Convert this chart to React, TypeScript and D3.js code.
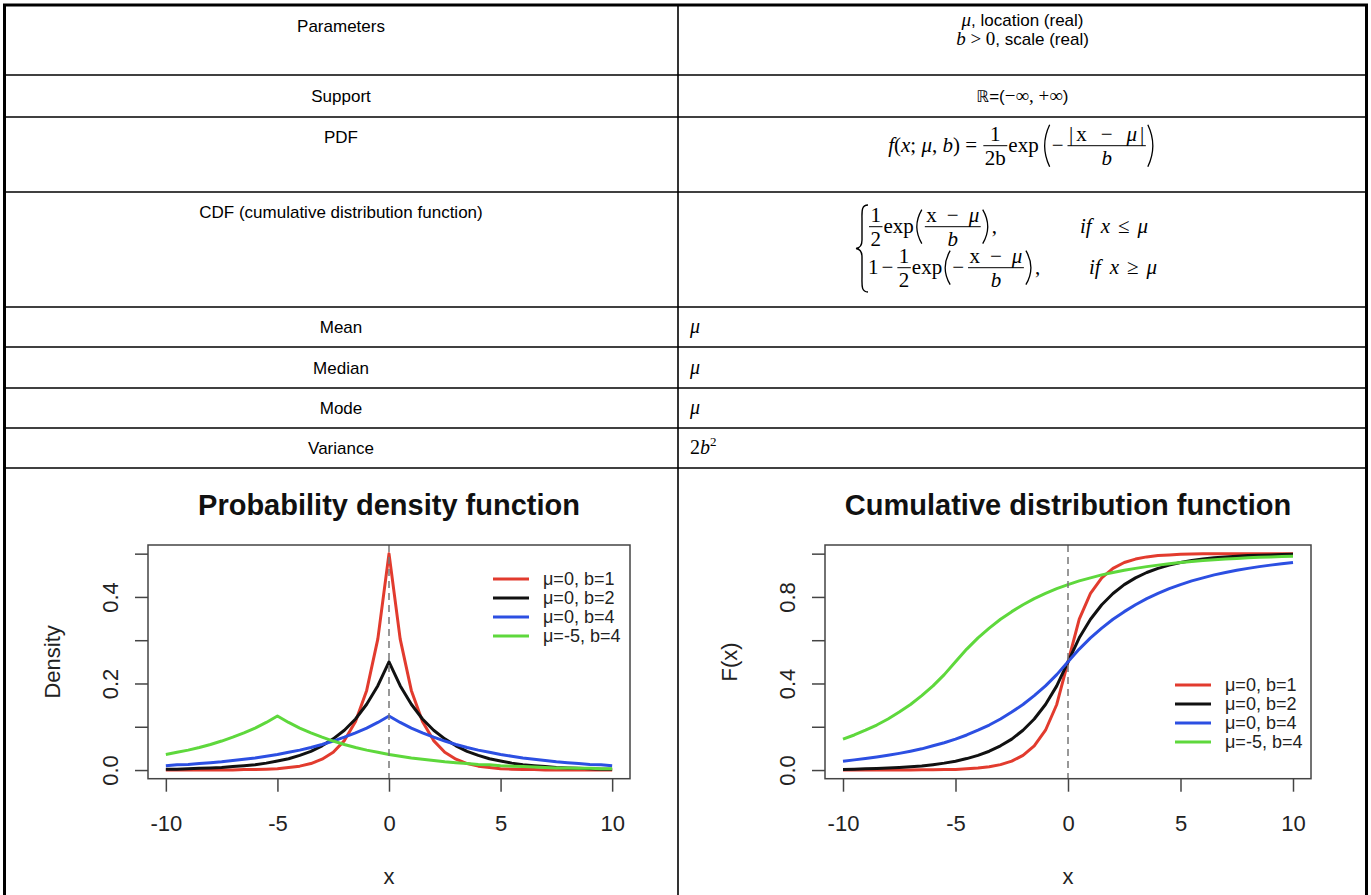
import React, { useEffect, useRef } from "react";
import * as d3 from "d3";

const SANS = "'Liberation Sans', Arial, Helvetica, sans-serif";
const SERIF = "'Liberation Serif', 'Times New Roman', serif";

// ---- table text ----
const rowLabels = [
  "Parameters",
  "Support",
  "PDF",
  "CDF (cumulative distribution function)",
  "Mean",
  "Median",
  "Mode",
  "Variance"
];

// ---- chart data (x from -10 to 10 by 0.5) ----
const xValues = [-10, -9.5, -9, -8.5, -8, -7.5, -7, -6.5, -6, -5.5, -5, -4.5, -4, -3.5, -3, -2.5, -2, -1.5, -1, -0.5,
  0, 0.5, 1, 1.5, 2, 2.5, 3, 3.5, 4, 4.5, 5, 5.5, 6, 6.5, 7, 7.5, 8, 8.5, 9, 9.5, 10];

const pdfRed = [0, 0, 0, 0, 0, 0, 0, 0.001, 0.001, 0.002, 0.003, 0.006, 0.009, 0.015, 0.025, 0.041, 0.068, 0.112, 0.184, 0.303,
  0.5, 0.303, 0.184, 0.112, 0.068, 0.041, 0.025, 0.015, 0.009, 0.006, 0.003, 0.002, 0.001, 0.001, 0, 0, 0, 0, 0, 0, 0];
const pdfBlack = [0.002, 0.002, 0.003, 0.004, 0.005, 0.006, 0.008, 0.010, 0.012, 0.016, 0.021, 0.026, 0.034, 0.043, 0.056, 0.072, 0.092, 0.118, 0.152, 0.195,
  0.25, 0.195, 0.152, 0.118, 0.092, 0.072, 0.056, 0.043, 0.034, 0.026, 0.021, 0.016, 0.012, 0.010, 0.008, 0.006, 0.005, 0.004, 0.003, 0.002, 0.002];
const pdfBlue = [0.010, 0.012, 0.013, 0.015, 0.017, 0.019, 0.022, 0.025, 0.028, 0.032, 0.036, 0.041, 0.046, 0.052, 0.059, 0.067, 0.076, 0.086, 0.097, 0.110,
  0.125, 0.110, 0.097, 0.086, 0.076, 0.067, 0.059, 0.052, 0.046, 0.041, 0.036, 0.032, 0.028, 0.025, 0.022, 0.019, 0.017, 0.015, 0.013, 0.012, 0.010];
const pdfGreen = [0.036, 0.041, 0.046, 0.052, 0.059, 0.067, 0.076, 0.086, 0.097, 0.110, 0.125, 0.110, 0.097, 0.086, 0.076, 0.067, 0.059, 0.052, 0.046, 0.041,
  0.036, 0.032, 0.028, 0.025, 0.022, 0.019, 0.017, 0.015, 0.013, 0.012, 0.010, 0.009, 0.008, 0.007, 0.006, 0.005, 0.005, 0.004, 0.004, 0.003, 0.003];

const cdfRed = [0, 0, 0, 0, 0, 0, 0, 0.001, 0.001, 0.002, 0.003, 0.006, 0.009, 0.015, 0.025, 0.041, 0.068, 0.112, 0.184, 0.303,
  0.5, 0.697, 0.816, 0.888, 0.932, 0.959, 0.975, 0.985, 0.991, 0.994, 0.997, 0.998, 0.999, 0.999, 1, 1, 1, 1, 1, 1, 1];
const cdfBlack = [0.003, 0.004, 0.006, 0.007, 0.009, 0.012, 0.015, 0.019, 0.025, 0.032, 0.041, 0.053, 0.068, 0.087, 0.112, 0.143, 0.184, 0.236, 0.303, 0.389,
  0.5, 0.611, 0.697, 0.764, 0.816, 0.857, 0.888, 0.913, 0.932, 0.947, 0.959, 0.968, 0.975, 0.981, 0.985, 0.988, 0.991, 0.993, 0.994, 0.996, 0.997];
const cdfBlue = [0.041, 0.047, 0.053, 0.060, 0.068, 0.077, 0.087, 0.098, 0.112, 0.126, 0.143, 0.162, 0.184, 0.208, 0.236, 0.268, 0.303, 0.344, 0.389, 0.441,
  0.5, 0.559, 0.611, 0.656, 0.697, 0.732, 0.764, 0.792, 0.816, 0.838, 0.857, 0.874, 0.888, 0.902, 0.913, 0.923, 0.932, 0.940, 0.947, 0.953, 0.959];
const cdfGreen = [0.143, 0.162, 0.184, 0.208, 0.236, 0.268, 0.303, 0.344, 0.389, 0.441, 0.5, 0.559, 0.611, 0.656, 0.697, 0.732, 0.764, 0.792, 0.816, 0.838,
  0.857, 0.874, 0.888, 0.902, 0.913, 0.923, 0.932, 0.940, 0.947, 0.953, 0.959, 0.964, 0.968, 0.972, 0.975, 0.978, 0.981, 0.983, 0.985, 0.987, 0.988];

const legendLabels = ["μ=0, b=1", "μ=0, b=2", "μ=0, b=4", "μ=-5, b=4"];
const xTicks = [-10, -5, 0, 5, 10];
const pdfTicks = [0, 0.1, 0.2, 0.3, 0.4, 0.5];
const pdfTickLabels = ["0.0", "", "0.2", "", "0.4", ""];
const cdfTicks = [0, 0.2, 0.4, 0.6, 0.8, 1];
const cdfTickLabels = ["0.0", "", "0.4", "", "0.8", ""];

const seriesColors = ["#e23b2e", "#111111", "#2c4fe2", "#5ed83c"];

// table layout
const colDivider = 678;
const rowLines = [75, 117, 192, 307, 347, 388, 428, 468];
const labelBaselines = [32, 102, 143, 218, 333, 374, 414, 454];

// [text, flags (i = italic, s = sans, d = dejavu), dx]
type Run = [string, string?, number?];
type Item = { runs?: Run[]; num?: Run[]; den?: Run[]; paren?: string; h?: number; gap?: number; at?: number };

const addRuns = (parent: any, runs: Run[], size: number) => {
  const t = parent.append("text")
    .attr("font-family", SERIF)
    .attr("font-size", size)
    .attr("fill", "#000")
    .style("white-space", "pre");
  runs.forEach(([s, f = "", dx = 0]) => {
    const sp = t.append("tspan").text(s);
    if (dx) sp.attr("dx", dx);
    if (f.includes("i")) sp.attr("font-style", "italic");
    if (f.includes("s")) sp.attr("font-family", SANS).attr("font-size", 17);
    if (f.includes("d")) sp.attr("font-family", "'DejaVu Sans', sans-serif").attr("font-size", 16);
  });
  return t;
};

const runsWidth = (t: any, runs: Run[]) =>
  (t.node() as SVGTextElement).getComputedTextLength() + runs.reduce((s, r) => s + (r[2] || 0), 0);

// lays out a formula on baseline 0, returns its width
const layoutMath = (parent: any, items: Item[], size: number) => {
  const axis = -size * 0.3;
  let x = 0;
  items.forEach((it) => {
    if (it.at !== undefined) x = it.at;
    if (it.runs) {
      const t = addRuns(parent, it.runs, size).attr("x", x).attr("y", 0);
      x += runsWidth(t, it.runs);
    } else if (it.num && it.den) {
      const n = addRuns(parent, it.num, size);
      const d = addRuns(parent, it.den, size);
      const nw = runsWidth(n, it.num);
      const dw = runsWidth(d, it.den);
      const w = Math.max(nw, dw) + 3;
      n.attr("x", x + 1 + (w - nw) / 2).attr("y", axis - 5);
      d.attr("x", x + 1 + (w - dw) / 2).attr("y", axis + 19);
      parent.append("line")
        .attr("x1", x + 1).attr("x2", x + 1 + w)
        .attr("y1", axis).attr("y2", axis)
        .attr("stroke", "#000").attr("stroke-width", 1);
      x += w + 2;
    } else if (it.paren) {
      const h = it.h || 17;
      const path = it.paren === "("
        ? `M${x + 8},${axis - h} Q${x - 2},${axis} ${x + 8},${axis + h}`
        : `M${x + 1},${axis - h} Q${x + 11},${axis} ${x + 1},${axis + h}`;
      parent.append("path").attr("d", path)
        .attr("fill", "none").attr("stroke", "#000").attr("stroke-width", 1.3);
      x += 10;
    } else if (it.gap) {
      x += it.gap;
    }
  });
  return x;
};

const renderTable = (svg: any) => {
  const W = 1371;
  // grid lines
  rowLines.forEach((y) => {
    svg.append("line").attr("x1", 4).attr("x2", 1367).attr("y1", y).attr("y2", y)
      .attr("stroke", "#000").attr("stroke-width", 1.6);
  });
  svg.append("line").attr("x1", colDivider).attr("x2", colDivider).attr("y1", 5).attr("y2", 895)
    .attr("stroke", "#000").attr("stroke-width", 1.6);
  // outer border
  svg.append("line").attr("x1", 3).attr("x2", W - 3).attr("y1", 5).attr("y2", 5)
    .attr("stroke", "#000").attr("stroke-width", 3);
  svg.append("line").attr("x1", 4.5).attr("x2", 4.5).attr("y1", 4).attr("y2", 895)
    .attr("stroke", "#000").attr("stroke-width", 3);
  svg.append("line").attr("x1", 1366.5).attr("x2", 1366.5).attr("y1", 4).attr("y2", 895)
    .attr("stroke", "#000").attr("stroke-width", 3);

  // left column labels
  rowLabels.forEach((label, i) => {
    svg.append("text")
      .attr("x", (4 + colDivider) / 2)
      .attr("y", labelBaselines[i])
      .attr("text-anchor", "middle")
      .attr("font-family", SANS)
      .attr("font-size", 17)
      .text(label);
  });

  const cx = (colDivider + 1367) / 2;

  // Parameters
  addRuns(svg, [["μ", "i"], [", location (real)", "s"]], 19)
    .attr("x", cx).attr("y", 26).attr("text-anchor", "middle");
  addRuns(svg, [["b", "i"], [" > 0"], [", scale (real)", "s"]], 19)
    .attr("x", cx).attr("y", 45).attr("text-anchor", "middle");

  // Support
  addRuns(svg, [["ℝ", "d"], ["=(", "s"], ["−∞, +∞"], [")", "s"]], 19)
    .attr("x", cx).attr("y", 102).attr("text-anchor", "middle");

  // PDF
  const gPdf = svg.append("g");
  const wPdf = layoutMath(gPdf, [
    { runs: [["f", "i"], ["("], ["x", "i"], ["; "], ["μ", "i"], [", "], ["b", "i"], [") = "]] },
    { num: [["1"]], den: [["2b"]] },
    { runs: [["exp"]] },
    { gap: 3 },
    { paren: "(", h: 21 },
    { runs: [["−"]] },
    { gap: 3 },
    { num: [["|"], ["x", "", 3], ["−", "", 14], ["μ", "i", 14], ["|", "", 3]], den: [["b", "i"]] },
    { paren: ")", h: 21 }
  ], 21);
  gPdf.attr("transform", `translate(${cx - wPdf / 2},152)`);

  // CDF
  svg.append("path")
    .attr("d", "M868,205 C861,205 862,212 862,220 L862,240 C862,246 860,248 856,248.5 C860,249 862,251 862,257 L862,277 C862,285 861,292 868,292")
    .attr("fill", "none").attr("stroke", "#000").attr("stroke-width", 1.4);
  const gC1 = svg.append("g").attr("transform", "translate(868,233)");
  layoutMath(gC1, [
    { num: [["1"]], den: [["2"]] },
    { runs: [["exp"]] },
    { paren: "(", h: 17 },
    { num: [["x"], ["−", "", 10], ["μ", "i", 10]], den: [["b", "i"]] },
    { paren: ")", h: 17 },
    { runs: [[","]] },
    { at: 212, runs: [["if", "i"], ["x", "i", 9], ["≤", "", 8], ["μ", "i", 8]] }
  ], 21);
  const gC2 = svg.append("g").attr("transform", "translate(868,274)");
  layoutMath(gC2, [
    { runs: [["1"], ["−", "", 3]] },
    { gap: 3 },
    { num: [["1"]], den: [["2"]] },
    { runs: [["exp"]] },
    { paren: "(", h: 17 },
    { runs: [["−"]] },
    { gap: 3 },
    { num: [["x"], ["−", "", 10], ["μ", "i", 10]], den: [["b", "i"]] },
    { paren: ")", h: 17 },
    { runs: [[","]] },
    { at: 221, runs: [["if", "i"], ["x", "i", 9], ["≥", "", 8], ["μ", "i", 8]] }
  ], 21);

  // Mean, Median, Mode, Variance
  [333, 374, 414].forEach((y) => {
    addRuns(svg, [["μ", "i"]], 20).attr("x", 690).attr("y", y);
  });
  const v = addRuns(svg, [["2"], ["b", "i"]], 20).attr("x", 690).attr("y", 454);
  v.append("tspan").attr("font-size", 13).attr("dy", -8).text("2");
};

const renderPlot = (svg: any, props: any) => {
  const {
    left, right, top, bottom, title, yLabel, yDomain,
    series, yTicks, yTickLabels, legendX, legendY
  } = props;

  const xScale = d3.scaleLinear().domain([-10.8, 10.8]).range([left, right]);
  const yScale = d3.scaleLinear().domain(yDomain).range([bottom, top]);
  const g = svg.append("g").attr("font-family", SANS);

  // curves
  const line = d3.line<number>()
    .x((_, i) => xScale(xValues[i]))
    .y((d) => yScale(d));
  series.forEach((s: number[], i: number) => {
    g.append("path")
      .attr("d", line(s))
      .attr("fill", "none")
      .attr("stroke", seriesColors[i])
      .attr("stroke-width", 3)
      .attr("stroke-linejoin", "round");
  });

  // dashed line at x = 0
  g.append("line")
    .attr("x1", xScale(0)).attr("x2", xScale(0))
    .attr("y1", top).attr("y2", bottom)
    .attr("stroke", "#777").attr("stroke-width", 1.5)
    .attr("stroke-dasharray", "7,5");

  // box
  g.append("rect")
    .attr("x", left).attr("y", top)
    .attr("width", right - left).attr("height", bottom - top)
    .attr("fill", "none").attr("stroke", "#444").attr("stroke-width", 1.5);

  // axes
  const xAxisG = g.append("g")
    .attr("transform", `translate(0,${bottom})`)
    .call(d3.axisBottom(xScale).tickValues(xTicks).tickSize(13).tickFormat((d: any) => String(d)));
  xAxisG.attr("font-size", 22).attr("font-family", SANS);
  xAxisG.select(".domain").remove();
  xAxisG.selectAll(".tick line").attr("stroke", "#444").attr("stroke-width", 1.5);
  xAxisG.selectAll(".tick text").attr("y", 52).attr("dy", null).attr("fill", "#222");

  const yAxisG = g.append("g")
    .attr("transform", `translate(${left},0)`)
    .call(d3.axisLeft(yScale).tickValues(yTicks).tickSize(13).tickFormat((_: any, i: number) => yTickLabels[i]));
  yAxisG.attr("font-size", 22).attr("font-family", SANS);
  yAxisG.select(".domain").remove();
  yAxisG.selectAll(".tick line").attr("stroke", "#444").attr("stroke-width", 1.5);
  yAxisG.selectAll(".tick text")
    .attr("x", null).attr("dy", null)
    .attr("text-anchor", "middle")
    .attr("fill", "#222")
    .attr("transform", "translate(-30,0) rotate(-90)");

  // titles
  const cx = (left + right) / 2;
  g.append("text")
    .attr("x", cx).attr("y", 515)
    .attr("text-anchor", "middle")
    .attr("font-size", 29).attr("font-weight", "bold").attr("fill", "#111")
    .text(title);
  g.append("text")
    .attr("x", cx).attr("y", 884)
    .attr("text-anchor", "middle")
    .attr("font-size", 22).attr("fill", "#222")
    .text("x");
  g.append("text")
    .attr("transform", `translate(${left - 88},${(top + bottom) / 2}) rotate(-90)`)
    .attr("text-anchor", "middle")
    .attr("font-size", 22).attr("fill", "#222")
    .text(yLabel);

  // legend
  legendLabels.forEach((lab, i) => {
    const yy = legendY + i * 19;
    g.append("line")
      .attr("x1", legendX).attr("x2", legendX + 36)
      .attr("y1", yy).attr("y2", yy)
      .attr("stroke", seriesColors[i]).attr("stroke-width", 3);
    g.append("text")
      .attr("x", legendX + 50).attr("y", yy + 6)
      .attr("font-size", 18).attr("fill", "#222")
      .text(lab);
  });
};

const App = () => {
  const svgRef = useRef<SVGSVGElement>(null);

  useEffect(() => {
    const svg = d3.select(svgRef.current);
    svg.selectAll("*").remove();
    svg.append("rect").attr("width", 1371).attr("height", 895).attr("fill", "#fff");

    renderTable(svg);

    renderPlot(svg, {
      left: 148, right: 630, top: 545, bottom: 778.7,
      title: "Probability density function",
      yLabel: "Density",
      yDomain: [-0.02, 0.52],
      series: [pdfRed, pdfBlack, pdfBlue, pdfGreen],
      yTicks: pdfTicks, yTickLabels: pdfTickLabels,
      legendX: 493, legendY: 579
    });

    renderPlot(svg, {
      left: 825, right: 1311, top: 545, bottom: 778.7,
      title: "Cumulative distribution function",
      yLabel: "F(x)",
      yDomain: [-0.04, 1.04],
      series: [cdfRed, cdfBlack, cdfBlue, cdfGreen],
      yTicks: cdfTicks, yTickLabels: cdfTickLabels,
      legendX: 1175, legendY: 685
    });
  });

  return (
    <svg
      ref={svgRef}
      width={1371}
      height={895}
      style={{ position: "absolute", left: 0, top: 0, display: "block" }}
    />
  );
};

export default App;
